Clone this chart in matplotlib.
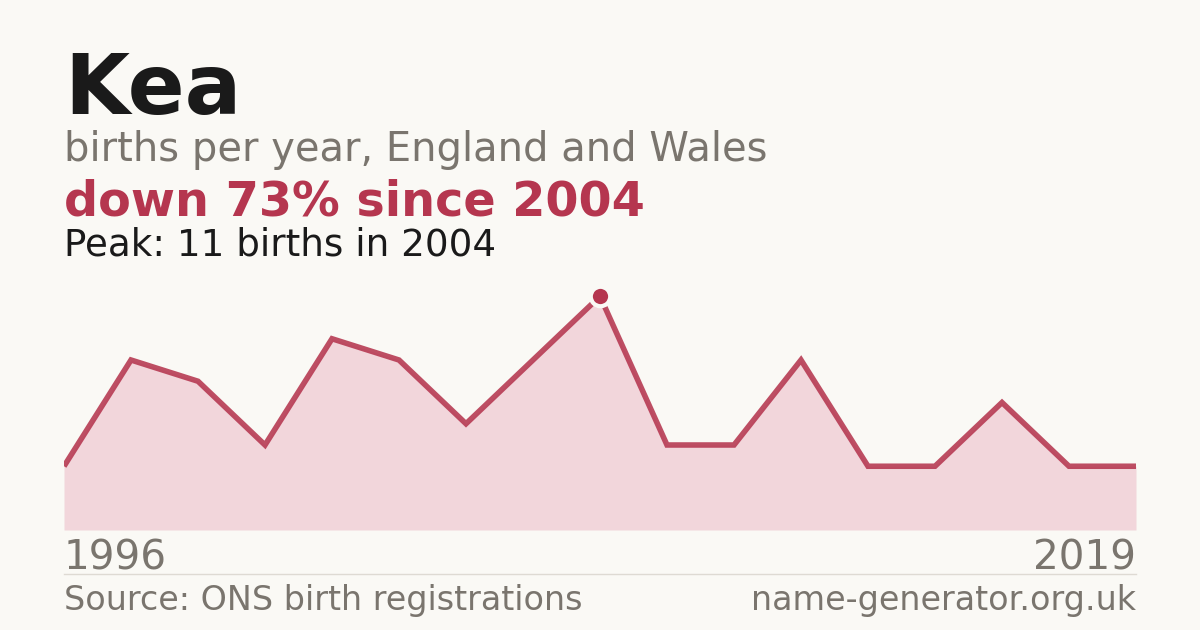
import matplotlib
matplotlib.use("Agg")
import matplotlib.pyplot as plt

# births per year (only years with reported counts, evenly spaced)
births = [3, 8, 7, 4, 9, 8, 5, 8, 11, 4, 4, 8, 3, 3, 6, 3, 3]
firstYear = "1996"
lastYear = "2019"
peakValue = 11
peakYear = 2004
dropPct = 73

W, H = 1200, 630
bg = "#faf9f5"
red = "#b5364f"
pink = "#f2d6db"
grey = "#7a756e"

plt.rcParams['font.family'] = ['DejaVu Sans']

fig = plt.figure(figsize=(W / 100, H / 100), dpi=100, facecolor=bg)

def px(x, y):
	return x / W, 1 - y / H

# chart area: x 64..1136, y 530 (zero) up to 275
ax = fig.add_axes([64 / W, 100 / H, 1072 / W, 255 / H])
ax.set_facecolor(bg)
ax.patch.set_alpha(0)
xs = list(range(len(births)))
ax.fill_between(xs, births, 0, color=pink, lw=0)
ax.plot(xs, births, color=red, lw=4, alpha=0.88, solid_joinstyle='miter', solid_capstyle='butt')
peakIdx = births.index(max(births))
ax.plot([peakIdx], [births[peakIdx]], 'o', ms=14, mfc=red, mec=bg, mew=3, zorder=5)
ax.set_xlim(0, len(births) - 1)
ax.set_ylim(0, 12)
ax.axis('off')

# texts
fig.text(*px(64, 114), "Kea", fontsize=60.5, fontweight='bold', color="#1a1a1a", va='baseline')
fig.text(*px(64, 161), "births per year, England and Wales", fontsize=28.8, color=grey, va='baseline')
fig.text(*px(64, 215), "down %d%% since %d" % (dropPct, peakYear), fontsize=34.4, fontweight='bold', color=red, va='baseline')
fig.text(*px(64, 255), "Peak: %d births in %d" % (peakValue, peakYear), fontsize=26.8, color="#1a1a1a", va='baseline')

fig.text(*px(64, 570), firstYear, fontsize=29.2, color=grey, va='baseline')
fig.text(*px(1136, 570), lastYear, fontsize=29.2, color=grey, va='baseline', ha='right')

fig.add_artist(plt.Line2D([64 / W, 1136 / W], [1 - 574 / H, 1 - 574 / H], color="#dedad3", lw=1))

fig.text(*px(64, 610), "Source: ONS birth registrations", fontsize=24, color=grey, va='baseline')
fig.text(*px(1136, 610), "name-generator.org.uk", fontsize=24, color=grey, va='baseline', ha='right')

fig.savefig("out.png", dpi=100, facecolor=bg)
